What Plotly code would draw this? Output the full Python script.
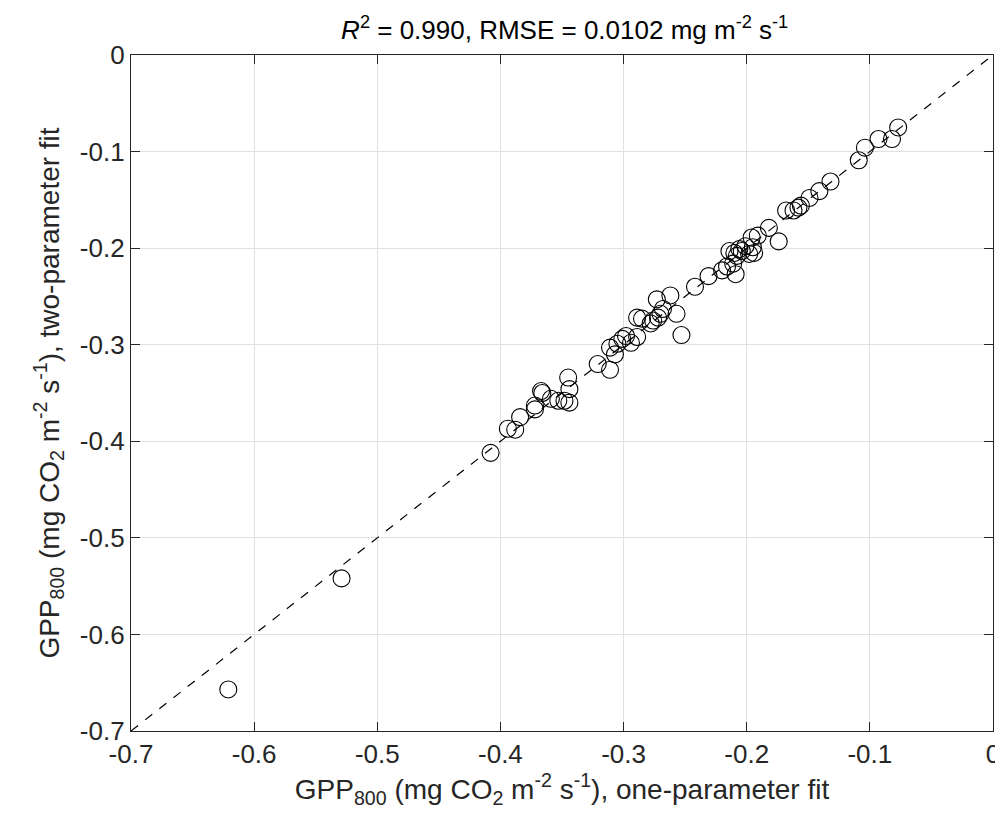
import plotly.graph_objects as go

# GPP800 from the one-parameter fit (x) and two-parameter fit (y)
gpp_one_param = [
    -0.077, -0.082, -0.093, -0.104, -0.109, -0.132, -0.141, -0.149, -0.156, -0.158,
    -0.162, -0.168, -0.182, -0.174, -0.196, -0.191, -0.214, -0.210, -0.206, -0.201,
    -0.195, -0.194, -0.198, -0.204, -0.208, -0.211, -0.209, -0.216, -0.220, -0.231,
    -0.242, -0.262, -0.273, -0.257, -0.253, -0.268, -0.270, -0.272, -0.276, -0.278,
    -0.289, -0.285, -0.289, -0.294, -0.298, -0.301, -0.305, -0.311, -0.307, -0.321,
    -0.311, -0.345, -0.344, -0.344, -0.348, -0.353, -0.359, -0.367, -0.366, -0.372,
    -0.372, -0.384, -0.388, -0.394, -0.408, -0.529, -0.621,
]
gpp_two_param = [
    -0.075, -0.087, -0.087, -0.096, -0.109, -0.131, -0.141, -0.148, -0.156, -0.158,
    -0.161, -0.161, -0.179, -0.193, -0.189, -0.187, -0.203, -0.205, -0.201, -0.198,
    -0.199, -0.205, -0.206, -0.203, -0.208, -0.216, -0.227, -0.219, -0.223, -0.229,
    -0.240, -0.249, -0.253, -0.268, -0.290, -0.263, -0.268, -0.272, -0.275, -0.278,
    -0.272, -0.273, -0.292, -0.298, -0.291, -0.294, -0.299, -0.303, -0.310, -0.320,
    -0.326, -0.334, -0.346, -0.360, -0.358, -0.358, -0.356, -0.348, -0.350, -0.363,
    -0.367, -0.375, -0.388, -0.387, -0.412, -0.542, -0.657,
]

one_to_one = [-0.7, 0.0]
tick_vals = [-0.7, -0.6, -0.5, -0.4, -0.3, -0.2, -0.1, 0.0]
tick_text = ["-0.7", "-0.6", "-0.5", "-0.4", "-0.3", "-0.2", "-0.1", "0"]

title_text = "<i>R</i><sup>2</sup> = 0.990, RMSE = 0.0102 mg m<sup>-2</sup> s<sup>-1</sup>"
x_label = "GPP<sub>800</sub> (mg CO<sub>2</sub> m<sup>-2</sup> s<sup>-1</sup>), one-parameter fit"
y_label = "GPP<sub>800</sub> (mg CO<sub>2</sub> m<sup>-2</sup> s<sup>-1</sup>), two-parameter fit"

FONT = "Liberation Sans, Arial, sans-serif"
AX = "#262626"

fig = go.Figure()
fig.add_trace(go.Scatter(
    x=one_to_one, y=one_to_one, mode="lines",
    line=dict(color="black", width=1.2, dash="dash"),
    hoverinfo="skip", showlegend=False,
))
fig.add_trace(go.Scatter(
    x=gpp_one_param, y=gpp_two_param, mode="markers",
    marker=dict(symbol="circle-open", size=17, color="black", line=dict(width=1.1)),
    showlegend=False,
))

axis_common = dict(
    range=[-0.7, 0], tickvals=tick_vals, ticktext=tick_text,
    showgrid=True, gridcolor="#e0e0e0", gridwidth=1,
    showline=True, linecolor=AX, linewidth=1.3, mirror="ticks",
    ticks="inside", ticklen=9, tickcolor=AX, tickwidth=1.3,
    zeroline=False, tickfont=dict(family=FONT, size=26, color=AX),
)

fig.update_layout(
    width=1003, height=824,
    margin=dict(l=123, r=11, t=47, b=101),
    paper_bgcolor="white", plot_bgcolor="white",
    font=dict(family=FONT, color=AX),
    title=dict(text=title_text, x=0.555, xanchor="center",
               yref="container", y=0.984, yanchor="top",
               font=dict(family=FONT, size=26, color="black")),
    xaxis=dict(**axis_common, title=dict(text=x_label, standoff=10,
               font=dict(family=FONT, size=28, color=AX))),
    yaxis=dict(**axis_common, title=dict(text=y_label, standoff=12,
               font=dict(family=FONT, size=28, color=AX))),
)

fig.write_html("out.html")
